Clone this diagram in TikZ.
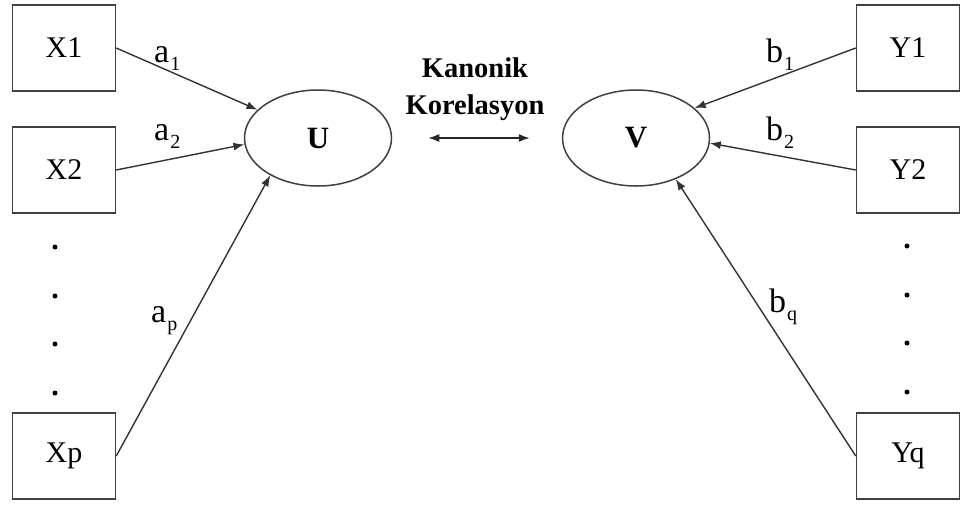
\documentclass[tikz,border=0pt]{standalone}
\usepackage{fontspec}
\setmainfont{Liberation Serif}
\usetikzlibrary{arrows.meta,shapes.geometric}
\newcommand{\sbx}[1]{\kern1pt\raisebox{-8pt}{\fontsize{20}{20}\selectfont #1}}
\begin{document}
\begin{tikzpicture}[x=1pt,y=-1pt,
  box/.style={draw=black!75,line width=1.5pt,minimum width=103pt,minimum height=86pt,inner sep=0pt,font=\fontsize{30}{30}\selectfont},
  latent/.style={draw=black!75,line width=1.5pt,ellipse,minimum width=147pt,minimum height=96pt,inner sep=0pt,font=\bfseries\fontsize{31}{31}\selectfont},
  link/.style={draw=black!80,line width=1.4pt,-{Latex[length=11pt,width=8pt]}},
  coef/.style={inner sep=0pt,anchor=base west,font=\fontsize{34}{34}\selectfont},
  vdot/.style={circle,fill=black,inner sep=0pt,minimum size=5pt}]
\useasboundingbox (0,0) rectangle (960,504);
% observed variables
\node[box] (X1) at (64,48) {X1};
\node[box] (X2) at (64,170) {X2};
\node[box] (Xp) at (64,456) {Xp};
\node[box] (Y1) at (908,48) {Y1};
\node[box] (Y2) at (908,170) {Y2};
\node[box] (Yq) at (908,456) {Yq};
% dots
\node[vdot] (xd1) at (55,247) {};
\node[vdot] (xd2) at (55,296) {};
\node[vdot] (xd3) at (55,344) {};
\node[vdot] (xd4) at (55,393) {};
\node[vdot] (yd1) at (907,246) {};
\node[vdot] (yd2) at (907,295) {};
\node[vdot] (yd3) at (907,343) {};
\node[vdot] (yd4) at (907,392) {};
% latent variables
\node[latent] (U) at (318,138) {U};
\node[latent] (V) at (636,138) {V};
% title
\node[align=center,font=\bfseries\fontsize{28.5}{37}\selectfont] (title) at (475,89) {Kanonik\\Korelasyon};
\draw[yshift=3pt,draw=black!85,line width=1.4pt,{Latex[length=11pt,width=8pt]}-{Latex[length=11pt,width=8pt]},shorten <=36pt,shorten >=32pt] (U.east) -- (V.west);
% paths
\draw[link] (X1.east) -- (U.155);
\draw[link] (X2.east) -- (U.185);
\draw[link] (Xp.east) -- (U.218);
\draw[link] (Y1.west) -- (V.27);
\draw[link] (Y2.west) -- (V.356);
\draw[link] (Yq.west) -- (V.314);
% coefficients
\node[coef] (la1) at (154,62) {a\sbx{1}};
\node[coef] (la2) at (154,140) {a\sbx{2}};
\node[coef] (lap) at (151,322) {a\sbx{p}};
\node[coef] (lb1) at (766,62) {b\sbx{1}};
\node[coef] (lb2) at (766,140) {b\sbx{2}};
\node[coef] (lbq) at (769,312) {b\sbx{q}};
\end{tikzpicture}
\end{document}
